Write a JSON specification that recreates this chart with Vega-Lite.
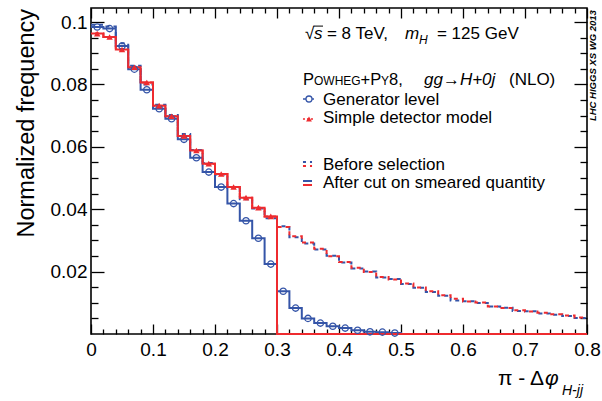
{
  "$schema": "https://vega.github.io/schema/vega-lite/v6.json",
  "width": 496,
  "height": 326,
  "autosize": {"type": "none"},
  "padding": {"left": 91, "top": 8, "right": 15, "bottom": 67},
  "background": "white",
  "config": {
    "font": "Liberation Sans",
    "view": {"stroke": "#000", "strokeWidth": 1.6},
    "axis": {"domain": false, "grid": false, "tickColor": "#000", "tickWidth": 1.3, "labelColor": "#000", "labelFont": "Liberation Sans", "labelFontSize": 19, "labelFlush": false, "labelOverlap": false}
  },
  "data": {"values": [
    {"lo": 0, "hi": 0.02, "genB": 0.0991, "detB": 0.0963, "genA": 0.0984, "detA": 0.0963},
    {"lo": 0.02, "hi": 0.04, "genB": 0.0986, "detB": 0.0952, "genA": 0.0979, "detA": 0.0952},
    {"lo": 0.04, "hi": 0.06, "genB": 0.0932, "detB": 0.0912, "genA": 0.0923, "detA": 0.0912},
    {"lo": 0.06, "hi": 0.08, "genB": 0.0860, "detB": 0.0855, "genA": 0.0849, "detA": 0.0855},
    {"lo": 0.08, "hi": 0.1, "genB": 0.0800, "detB": 0.0806, "genA": 0.0783, "detA": 0.0806},
    {"lo": 0.1, "hi": 0.12, "genB": 0.0735, "detB": 0.0732, "genA": 0.0722, "detA": 0.0732},
    {"lo": 0.12, "hi": 0.14, "genB": 0.0702, "detB": 0.0698, "genA": 0.0690, "detA": 0.0698},
    {"lo": 0.14, "hi": 0.16, "genB": 0.0641, "detB": 0.0635, "genA": 0.0624, "detA": 0.0635},
    {"lo": 0.16, "hi": 0.18, "genB": 0.0590, "detB": 0.0588, "genA": 0.0565, "detA": 0.0588},
    {"lo": 0.18, "hi": 0.2, "genB": 0.0548, "detB": 0.0546, "genA": 0.0519, "detA": 0.0546},
    {"lo": 0.2, "hi": 0.22, "genB": 0.0511, "detB": 0.0513, "genA": 0.0471, "detA": 0.0513},
    {"lo": 0.22, "hi": 0.24, "genB": 0.0468, "detB": 0.0471, "genA": 0.0418, "detA": 0.0471},
    {"lo": 0.24, "hi": 0.26, "genB": 0.0432, "detB": 0.0437, "genA": 0.0363, "detA": 0.0437},
    {"lo": 0.26, "hi": 0.28, "genB": 0.0402, "detB": 0.0405, "genA": 0.0307, "detA": 0.0405},
    {"lo": 0.28, "hi": 0.3, "genB": 0.0371, "detB": 0.0377, "genA": 0.0224, "detA": 0.0377},
    {"lo": 0.3, "hi": 0.32, "genB": 0.0345, "detB": 0.0343, "genA": 0.0137, "detA": 0},
    {"lo": 0.32, "hi": 0.34, "genB": 0.0310, "detB": 0.0313, "genA": 0.0083, "detA": 0},
    {"lo": 0.34, "hi": 0.36, "genB": 0.0290, "detB": 0.0293, "genA": 0.0050, "detA": 0},
    {"lo": 0.36, "hi": 0.38, "genB": 0.0271, "detB": 0.0273, "genA": 0.0035, "detA": 0},
    {"lo": 0.38, "hi": 0.4, "genB": 0.0251, "detB": 0.0249, "genA": 0.0025, "detA": 0},
    {"lo": 0.4, "hi": 0.42, "genB": 0.0229, "detB": 0.0231, "genA": 0.0019, "detA": 0},
    {"lo": 0.42, "hi": 0.44, "genB": 0.0210, "detB": 0.0212, "genA": 0.0012, "detA": 0},
    {"lo": 0.44, "hi": 0.46, "genB": 0.0200, "detB": 0.0199, "genA": 0.0007, "detA": 0},
    {"lo": 0.46, "hi": 0.48, "genB": 0.0181, "detB": 0.0183, "genA": 0.0006, "detA": 0},
    {"lo": 0.48, "hi": 0.5, "genB": 0.0176, "detB": 0.0175, "genA": 0.0003, "detA": 0},
    {"lo": 0.5, "hi": 0.52, "genB": 0.0160, "detB": 0.0162, "genA": 0, "detA": 0},
    {"lo": 0.52, "hi": 0.54, "genB": 0.0148, "detB": 0.0149, "genA": 0, "detA": 0},
    {"lo": 0.54, "hi": 0.56, "genB": 0.0135, "detB": 0.0137, "genA": 0, "detA": 0},
    {"lo": 0.56, "hi": 0.58, "genB": 0.0123, "detB": 0.0124, "genA": 0, "detA": 0},
    {"lo": 0.58, "hi": 0.6, "genB": 0.0107, "detB": 0.0113, "genA": 0, "detA": 0},
    {"lo": 0.6, "hi": 0.62, "genB": 0.0105, "detB": 0.0104, "genA": 0, "detA": 0},
    {"lo": 0.62, "hi": 0.64, "genB": 0.0099, "detB": 0.0101, "genA": 0, "detA": 0},
    {"lo": 0.64, "hi": 0.66, "genB": 0.0088, "detB": 0.0088, "genA": 0, "detA": 0},
    {"lo": 0.66, "hi": 0.68, "genB": 0.0084, "detB": 0.0083, "genA": 0, "detA": 0},
    {"lo": 0.68, "hi": 0.7, "genB": 0.0074, "detB": 0.0076, "genA": 0, "detA": 0},
    {"lo": 0.7, "hi": 0.72, "genB": 0.0073, "detB": 0.0072, "genA": 0, "detA": 0},
    {"lo": 0.72, "hi": 0.74, "genB": 0.0066, "detB": 0.0068, "genA": 0, "detA": 0},
    {"lo": 0.74, "hi": 0.76, "genB": 0.0062, "detB": 0.0063, "genA": 0, "detA": 0},
    {"lo": 0.76, "hi": 0.78, "genB": 0.0058, "detB": 0.0059, "genA": 0, "detA": 0},
    {"lo": 0.78, "hi": 0.8, "genB": 0.0051, "detB": 0.0053, "genA": 0, "detA": 0}
  ]},
  "resolve": {"axis": {"x": "independent", "y": "independent"}},
  "layer": [
    {
      "transform": [{"fold": ["lo", "hi"], "as": ["ek", "edge"]}],
      "mark": {"type": "line", "color": "#3555a8", "strokeWidth": 2, "strokeDash": [4, 4]},
      "encoding": {
        "x": {"field": "edge", "type": "quantitative", "scale": {"domain": [0, 0.8], "nice": false, "zero": false},
              "axis": {"orient": "bottom", "values": [0, 0.1, 0.2, 0.3, 0.4, 0.5, 0.6, 0.7, 0.8], "tickSize": -10, "labelPadding": 16, "format": "~g", "title": null}},
        "y": {"field": "genB", "type": "quantitative", "scale": {"domain": [0, 0.1045], "nice": false, "zero": false},
              "axis": {"orient": "left", "values": [0.02, 0.04, 0.06, 0.08, 0.1], "tickSize": -13, "labelPadding": 17, "format": "~g", "title": null}},
        "order": [{"field": "edge", "type": "quantitative"}, {"field": "ek", "type": "ordinal"}]
      }
    },
    {
      "transform": [{"fold": ["lo", "hi"], "as": ["ek", "edge"]}],
      "mark": {"type": "line", "color": "#ee2b2f", "strokeWidth": 2, "strokeDash": [4, 4], "strokeDashOffset": 4},
      "encoding": {
        "x": {"field": "edge", "type": "quantitative", "scale": {"domain": [0, 0.8], "nice": false, "zero": false},
              "axis": {"orient": "bottom", "values": [0.02, 0.04, 0.06, 0.08, 0.12, 0.14, 0.16, 0.18, 0.22, 0.24, 0.26, 0.28, 0.32, 0.34, 0.36, 0.38, 0.42, 0.44, 0.46, 0.48, 0.52, 0.54, 0.56, 0.58, 0.62, 0.64, 0.66, 0.68, 0.72, 0.74, 0.76, 0.78], "tickSize": -5, "labels": false, "title": null}},
        "y": {"field": "detB", "type": "quantitative", "scale": {"domain": [0, 0.1045], "nice": false, "zero": false},
              "axis": {"orient": "left", "values": [0.005, 0.01, 0.015, 0.025, 0.03, 0.035, 0.045, 0.05, 0.055, 0.065, 0.07, 0.075, 0.085, 0.09, 0.095], "tickSize": -7, "labels": false, "title": null}},
        "order": [{"field": "edge", "type": "quantitative"}, {"field": "ek", "type": "ordinal"}]
      }
    },
    {
      "transform": [{"fold": ["lo", "hi"], "as": ["ek", "edge"]}],
      "mark": {"type": "line", "color": "#3555a8", "strokeWidth": 2},
      "encoding": {
        "x": {"field": "edge", "type": "quantitative", "scale": {"domain": [0, 0.8], "nice": false, "zero": false},
              "axis": {"orient": "top", "values": [0, 0.1, 0.2, 0.3, 0.4, 0.5, 0.6, 0.7, 0.8], "tickSize": -10, "labels": false, "title": null}},
        "y": {"field": "genA", "type": "quantitative", "scale": {"domain": [0, 0.1045], "nice": false, "zero": false},
              "axis": {"orient": "right", "values": [0.02, 0.04, 0.06, 0.08, 0.1], "tickSize": -13, "labels": false, "title": null}},
        "order": [{"field": "edge", "type": "quantitative"}, {"field": "ek", "type": "ordinal"}]
      }
    },
    {
      "transform": [{"fold": ["lo", "hi"], "as": ["ek", "edge"]}],
      "mark": {"type": "line", "color": "#ee2b2f", "strokeWidth": 2},
      "encoding": {
        "x": {"field": "edge", "type": "quantitative", "scale": {"domain": [0, 0.8], "nice": false, "zero": false},
              "axis": {"orient": "top", "values": [0.02, 0.04, 0.06, 0.08, 0.12, 0.14, 0.16, 0.18, 0.22, 0.24, 0.26, 0.28, 0.32, 0.34, 0.36, 0.38, 0.42, 0.44, 0.46, 0.48, 0.52, 0.54, 0.56, 0.58, 0.62, 0.64, 0.66, 0.68, 0.72, 0.74, 0.76, 0.78], "tickSize": -5, "labels": false, "title": null}},
        "y": {"field": "detA", "type": "quantitative", "scale": {"domain": [0, 0.1045], "nice": false, "zero": false},
              "axis": {"orient": "right", "values": [0.005, 0.01, 0.015, 0.025, 0.03, 0.035, 0.045, 0.05, 0.055, 0.065, 0.07, 0.075, 0.085, 0.09, 0.095], "tickSize": -7, "labels": false, "title": null}},
        "order": [{"field": "edge", "type": "quantitative"}, {"field": "ek", "type": "ordinal"}]
      }
    },
    {
      "transform": [{"filter": "datum.genA > 0"}, {"calculate": "(datum.lo + datum.hi) / 2", "as": "mid"}],
      "mark": {"type": "point", "shape": "circle", "filled": false, "color": "#3555a8", "size": 40, "strokeWidth": 1.3, "opacity": 1},
      "encoding": {
        "x": {"field": "mid", "type": "quantitative", "scale": {"domain": [0, 0.8], "nice": false, "zero": false}, "axis": null},
        "y": {"field": "genA", "type": "quantitative", "scale": {"domain": [0, 0.1045], "nice": false, "zero": false}, "axis": null}
      }
    },
    {
      "transform": [{"filter": "datum.detA > 0"}, {"calculate": "(datum.lo + datum.hi) / 2", "as": "mid"}],
      "mark": {"type": "point", "shape": "triangle-up", "filled": true, "color": "#ee2b2f", "size": 42, "opacity": 1},
      "encoding": {
        "x": {"field": "mid", "type": "quantitative", "scale": {"domain": [0, 0.8], "nice": false, "zero": false}, "axis": null},
        "y": {"field": "detA", "type": "quantitative", "scale": {"domain": [0, 0.1045], "nice": false, "zero": false}, "axis": null}
      }
    },
    {
      "data": {"values": [{}]},
      "layer": [
        {"mark": {"type": "text", "text": "Normalized frequency", "angle": 270, "align": "right", "baseline": "alphabetic", "fontSize": 23.5},
         "encoding": {"x": {"datum": -0.0919, "type": "quantitative", "axis": null}, "y": {"datum": 0.1042, "type": "quantitative", "axis": null}}},
        {"mark": {"type": "text", "text": "LHC HIGGS XS WG 2013", "angle": 270, "align": "right", "baseline": "middle", "fontSize": 9.5, "fontWeight": "bold", "fontStyle": "italic"},
         "encoding": {"x": {"datum": 0.8089, "type": "quantitative", "axis": null}, "y": {"datum": 0.1038, "type": "quantitative", "axis": null}}},
        {"mark": {"type": "text", "text": "π - Δ", "align": "right", "baseline": "alphabetic", "fontSize": 21},
         "encoding": {"x": {"datum": 0.7306, "type": "quantitative", "axis": null}, "y": {"datum": -0.01635, "type": "quantitative", "axis": null}}},
        {"mark": {"type": "text", "text": "φ", "align": "left", "baseline": "alphabetic", "fontSize": 21, "fontStyle": "italic"},
         "encoding": {"x": {"datum": 0.7323, "type": "quantitative", "axis": null}, "y": {"datum": -0.01635, "type": "quantitative", "axis": null}}},
        {"mark": {"type": "text", "text": "H-jj", "align": "left", "baseline": "alphabetic", "fontSize": 14, "fontStyle": "italic"},
         "encoding": {"x": {"datum": 0.7597, "type": "quantitative", "axis": null}, "y": {"datum": -0.01955, "type": "quantitative", "axis": null}}},
        {"mark": {"type": "text", "text": "√", "align": "left", "baseline": "alphabetic", "fontSize": 17},
         "encoding": {"x": {"datum": 0.3452, "type": "quantitative", "axis": null}, "y": {"datum": 0.09456, "type": "quantitative", "axis": null}}},
        {"mark": {"type": "rule", "color": "#000", "strokeWidth": 1},
         "encoding": {"x": {"datum": 0.3590, "type": "quantitative", "axis": null}, "x2": {"datum": 0.3742}, "y": {"datum": 0.0987, "type": "quantitative", "axis": null}}},
        {"mark": {"type": "text", "text": "s", "align": "left", "baseline": "alphabetic", "fontSize": 17, "fontStyle": "italic"},
         "encoding": {"x": {"datum": 0.3597, "type": "quantitative", "axis": null}, "y": {"datum": 0.09456, "type": "quantitative", "axis": null}}},
        {"mark": {"type": "text", "text": "= 8 TeV,", "align": "left", "baseline": "alphabetic", "fontSize": 17},
         "encoding": {"x": {"datum": 0.3806, "type": "quantitative", "axis": null}, "y": {"datum": 0.09456, "type": "quantitative", "axis": null}}},
        {"mark": {"type": "text", "text": "m", "align": "left", "baseline": "alphabetic", "fontSize": 17, "fontStyle": "italic"},
         "encoding": {"x": {"datum": 0.5065, "type": "quantitative", "axis": null}, "y": {"datum": 0.09456, "type": "quantitative", "axis": null}}},
        {"mark": {"type": "text", "text": "H", "align": "left", "baseline": "alphabetic", "fontSize": 12, "fontStyle": "italic"},
         "encoding": {"x": {"datum": 0.529, "type": "quantitative", "axis": null}, "y": {"datum": 0.0931, "type": "quantitative", "axis": null}}},
        {"mark": {"type": "text", "text": "= 125 GeV", "align": "left", "baseline": "alphabetic", "fontSize": 17},
         "encoding": {"x": {"datum": 0.558, "type": "quantitative", "axis": null}, "y": {"datum": 0.09456, "type": "quantitative", "axis": null}}},
        {"mark": {"type": "text", "text": "P", "align": "left", "baseline": "alphabetic", "fontSize": 16.5},
         "encoding": {"x": {"datum": 0.3419, "type": "quantitative", "axis": null}, "y": {"datum": 0.07982, "type": "quantitative", "axis": null}}},
        {"mark": {"type": "text", "text": "OWHEG", "align": "left", "baseline": "alphabetic", "fontSize": 12},
         "encoding": {"x": {"datum": 0.3597, "type": "quantitative", "axis": null}, "y": {"datum": 0.07982, "type": "quantitative", "axis": null}}},
        {"mark": {"type": "text", "text": "+P", "align": "left", "baseline": "alphabetic", "fontSize": 16.5},
         "encoding": {"x": {"datum": 0.4347, "type": "quantitative", "axis": null}, "y": {"datum": 0.07982, "type": "quantitative", "axis": null}}},
        {"mark": {"type": "text", "text": "Y", "align": "left", "baseline": "alphabetic", "fontSize": 12},
         "encoding": {"x": {"datum": 0.4677, "type": "quantitative", "axis": null}, "y": {"datum": 0.07982, "type": "quantitative", "axis": null}}},
        {"mark": {"type": "text", "text": "8,", "align": "left", "baseline": "alphabetic", "fontSize": 16.5},
         "encoding": {"x": {"datum": 0.4806, "type": "quantitative", "axis": null}, "y": {"datum": 0.07982, "type": "quantitative", "axis": null}}},
        {"mark": {"type": "text", "text": "gg→H+0j", "align": "left", "baseline": "alphabetic", "fontSize": 17, "fontStyle": "italic"},
         "encoding": {"x": {"datum": 0.5371, "type": "quantitative", "axis": null}, "y": {"datum": 0.07982, "type": "quantitative", "axis": null}}},
        {"mark": {"type": "text", "text": "(NLO)", "align": "left", "baseline": "alphabetic", "fontSize": 17},
         "encoding": {"x": {"datum": 0.6742, "type": "quantitative", "axis": null}, "y": {"datum": 0.07982, "type": "quantitative", "axis": null}}},
        {"mark": {"type": "rule", "color": "#3555a8", "strokeWidth": 1.5},
         "encoding": {"x": {"datum": 0.3419, "type": "quantitative", "axis": null}, "x2": {"datum": 0.3597}, "y": {"datum": 0.07533, "type": "quantitative", "axis": null}}},
        {"mark": {"type": "point", "shape": "circle", "filled": true, "fill": "white", "stroke": "#3555a8", "strokeWidth": 1.3, "size": 36, "opacity": 1},
         "encoding": {"x": {"datum": 0.3516, "type": "quantitative", "axis": null}, "y": {"datum": 0.07533, "type": "quantitative", "axis": null}}},
        {"mark": {"type": "text", "text": "Generator level", "align": "left", "baseline": "alphabetic", "fontSize": 17},
         "encoding": {"x": {"datum": 0.3742, "type": "quantitative", "axis": null}, "y": {"datum": 0.07341, "type": "quantitative", "axis": null}}},
        {"mark": {"type": "rule", "color": "#ee2b2f", "strokeWidth": 1.5, "strokeDash": [2, 2]},
         "encoding": {"x": {"datum": 0.3419, "type": "quantitative", "axis": null}, "x2": {"datum": 0.3597}, "y": {"datum": 0.06892, "type": "quantitative", "axis": null}}},
        {"mark": {"type": "point", "shape": "triangle-up", "filled": true, "color": "#ee2b2f", "size": 34, "opacity": 1},
         "encoding": {"x": {"datum": 0.3516, "type": "quantitative", "axis": null}, "y": {"datum": 0.06892, "type": "quantitative", "axis": null}}},
        {"mark": {"type": "text", "text": "Simple detector model", "align": "left", "baseline": "alphabetic", "fontSize": 17},
         "encoding": {"x": {"datum": 0.3742, "type": "quantitative", "axis": null}, "y": {"datum": 0.06764, "type": "quantitative", "axis": null}}},
        {"mark": {"type": "rule", "color": "#3555a8", "strokeWidth": 2, "strokeDash": [3, 4]},
         "encoding": {"x": {"datum": 0.3419, "type": "quantitative", "axis": null}, "x2": {"datum": 0.3565}, "y": {"datum": 0.05514, "type": "quantitative", "axis": null}}},
        {"mark": {"type": "rule", "color": "#ee2b2f", "strokeWidth": 2, "strokeDash": [3, 4]},
         "encoding": {"x": {"datum": 0.3419, "type": "quantitative", "axis": null}, "x2": {"datum": 0.3565}, "y": {"datum": 0.05385, "type": "quantitative", "axis": null}}},
        {"mark": {"type": "text", "text": "Before selection", "align": "left", "baseline": "alphabetic", "fontSize": 17},
         "encoding": {"x": {"datum": 0.3742, "type": "quantitative", "axis": null}, "y": {"datum": 0.05257, "type": "quantitative", "axis": null}}},
        {"mark": {"type": "rule", "color": "#3555a8", "strokeWidth": 2},
         "encoding": {"x": {"datum": 0.3419, "type": "quantitative", "axis": null}, "x2": {"datum": 0.3565}, "y": {"datum": 0.04904, "type": "quantitative", "axis": null}}},
        {"mark": {"type": "rule", "color": "#ee2b2f", "strokeWidth": 2},
         "encoding": {"x": {"datum": 0.3419, "type": "quantitative", "axis": null}, "x2": {"datum": 0.3565}, "y": {"datum": 0.04776, "type": "quantitative", "axis": null}}},
        {"mark": {"type": "text", "text": "After cut on smeared quantity", "align": "left", "baseline": "alphabetic", "fontSize": 17},
         "encoding": {"x": {"datum": 0.3742, "type": "quantitative", "axis": null}, "y": {"datum": 0.0468, "type": "quantitative", "axis": null}}}
      ]
    }
  ]
}
